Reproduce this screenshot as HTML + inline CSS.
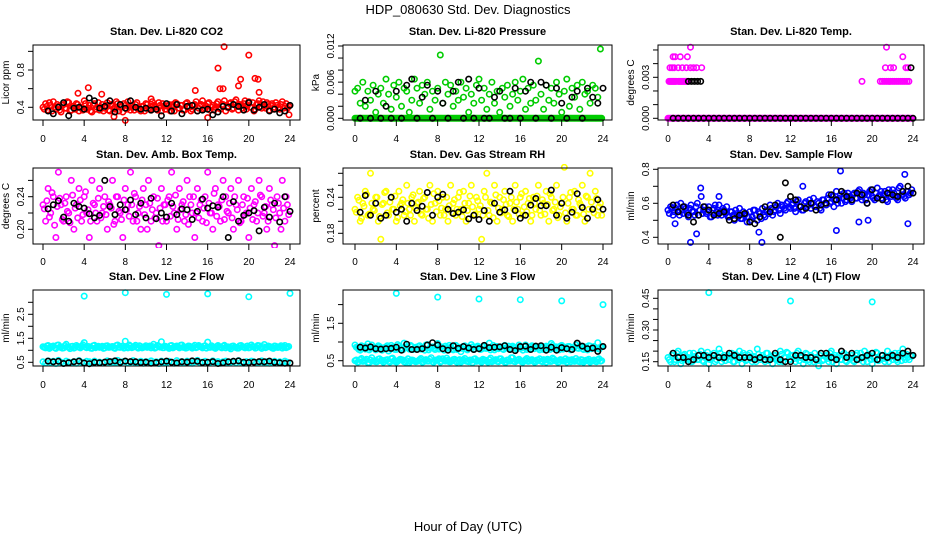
<!DOCTYPE html>
<html><head><meta charset="utf-8"><style>
html,body{margin:0;padding:0;background:#fff;}
svg{display:block;font-family:"Liberation Sans",Arial,sans-serif;}
</style></head><body>
<svg id="chart" width="936" height="540" viewBox="0 0 936 540" xmlns="http://www.w3.org/2000/svg">
<rect width="936" height="540" fill="#fff"/>
<text x="468" y="14" font-size="13" text-anchor="middle">HDP_080630  Std. Dev. Diagnostics</text>
<text x="468" y="531" font-size="13" text-anchor="middle">Hour of Day (UTC)</text>
</svg>
<script>
// ---------- data ----------
const hourTicks=[0,4,8,12,16,20,24];
const co2Main=[0.40,0.44,0.37,0.42,0.46,0.38,0.41,0.35,0.43,0.39,0.45,0.37,0.41,0.44,0.36,0.40,0.47,0.38,0.42,0.35,0.44,0.40,0.37,0.43,
0.39,0.45,0.36,0.41,0.38,0.44,0.40,0.35,0.42,0.46,0.37,0.40,0.43,0.38,0.36,0.41,0.44,0.39,0.37,0.42,0.40,0.45,0.36,0.41,
0.38,0.43,0.40,0.36,0.44,0.39,0.42,0.37,0.45,0.40,0.38,0.43,0.36,0.41,0.47,0.39,0.44,0.37,0.42,0.40,0.46,0.38,0.43,0.36,
0.41,0.45,0.39,0.48,0.37,0.42,0.44,0.38,0.46,0.40,0.36,0.43,0.47,0.39,0.41,0.45,0.37,0.44,0.40,0.42,0.38,0.46,0.41,0.39];
const co2Second=[0.38,0.41,0.45,0.36,0.40,0.43,0.37,0.42,0.39,0.46,0.36,0.41,0.38,0.43,0.40,0.37,0.44,0.39,0.36,0.42,0.38,0.45,0.40,0.36,
0.42,0.37,0.43,0.39,0.46,0.36,0.41,0.44,0.38,0.40,0.42,0.37,0.45,0.39,0.41,0.36,0.43,0.38,0.46,0.40,0.37,0.42,0.44,0.38,
0.41,0.36,0.43,0.45,0.39,0.42,0.37,0.44,0.40,0.36,0.42,0.46,0.39,0.43,0.38,0.41,0.45,0.40,0.37,0.44,0.39,0.42,0.47,0.40,
0.44,0.38,0.46,0.41,0.43,0.39,0.47,0.42,0.40,0.45,0.38,0.44,0.41,0.46,0.39,0.43,0.42,0.38,0.45,0.40,0.43,0.39,0.44,0.41];
const co2OutX=[3.4,4.4,5.7,8.0,10.5,14.8,17.0,17.2,17.6,17.5,19.0,19.2,20.0,20.6,20.9,21.0,6.9,16.0,23.9];
const co2OutY=[0.55,0.61,0.54,0.26,0.49,0.58,0.82,0.60,1.05,0.60,0.63,0.70,0.96,0.71,0.70,0.56,0.30,0.29,0.32];
const co2Black=[.36,.33,.40,.45,.31,.39,.40,.38,.50,.47,.39,.41,.47,.35,.43,.39,.47,.40,.38,.39,.37,.38,.31,.44,.36,.43,.33,.41,.42,.36,.37,.38,.32,.35,.41,.40,.43,.41,.37,.45,.37,.40,.43,.36,.38,.34,.36,.42];

const presMain=[.0045,.005,.0025,.006,.002,.0045,.003,.0055,.001,.004,.005,.0025,.0065,.004,.0015,.0055,.0035,.006,.002,.005,.0045,.001,.003,.0065,
.005,.0025,.0055,.004,.006,.0015,.0045,.003,.005,.0105,.0025,.006,.004,.0055,.002,.0045,.003,.006,.0035,.005,.001,.004,.0025,.0055,
.0065,.003,.005,.0015,.004,.006,.0025,.0045,.001,.005,.0035,.0055,.002,.004,.006,.003,.0045,.0065,.0015,.005,.0025,.0055,.003,.0095,
.004,.0015,.0055,.003,.005,.0025,.006,.004,.001,.0045,.0065,.002,.005,.0035,.0055,.0015,.006,.004,.0045,.0025,.0055,.005,.0035,.0115];
const presBase=[0,0,0,0,0,0,0,0,0,0,0,0,0,0,0,0,0,0,0,0,0,0,0,0,0,0,0,0,0,0,0,0,0,0,0,0,0,0,0,0,0,0,0,0,0,0,0,0,0,0,0,0,0,0,0,0,0,0,0,0,0,0,0,0,0,0,0,0,0,0,0,0,0,0,0,0,0,0,0,0,0,0,0,0,0,0,0,0,0,0,0,0,0,0,0,0];
const presBlack=[0,.003,0,.0045,0,.002,0,.0045,0,.0055,.0065,0,.0035,.0055,0,.0045,.0025,0,.0045,.006,0,.0065,0,.005,
0,0,.0035,.0045,0,0,.005,0,.0045,.006,0,.006,.0055,0,.005,.0025,0,.0035,.0045,0,.005,.0035,.0025,.005];

const tempBase=[0,0,0,0,0,0,0,0,0,0,0,0,0,0,0,0,0,0,0,0,0,0,0,0,0,0,0,0,0,0,0,0,0,0,0,0,0,0,0,0,0,0,0,0,0,0,0,0,0,0,0,0,0,0,0,0,0,0,0,0,0,0,0,0,0,0,0,0,0,0,0,0,0,0,0,0,0,0,0,0,0,0,0,0,0,0,0,0,0,0,0,0,0,0,0,0];
const tempHiX=[0.1,0.2,0.3,0.4,0.5,0.6,0.7,0.8,1.0,1.1,1.2,1.3,1.4,1.5,1.6,1.7,1.8,1.9,0.2,0.4,0.6,1.0,1.4,1.8,2.2,2.5,2.8,3.3,0.5,0.7,1.2,1.9,2.2,
19.0,20.8,21.0,21.2,21.4,21.6,21.8,22.0,22.2,22.4,22.6,22.8,23.0,23.2,23.4,23.6,21.3,21.8,22.1,23.3,23.5,23.0,21.4];
const tempHiY=[.0027,.0027,.0027,.0027,.0027,.0027,.0027,.0027,.0027,.0027,.0027,.0027,.0027,.0027,.0027,.0027,.0027,.0027,.0037,.0037,.0037,.0037,.0037,.0037,.0037,.0037,.0037,.0037,.0045,.0045,.0045,.0045,.0052,
.0027,.0027,.0027,.0027,.0027,.0027,.0027,.0027,.0027,.0027,.0027,.0027,.0027,.0027,.0027,.0027,.0037,.0037,.0037,.0037,.0037,.0045,.0052];
const tempBlack=[0,0,0,0,0,0,0,0,0,0,0,0,0,0,0,0,0,0,0,0,0,0,0,0,0,0,0,0,0,0,0,0,0,0,0,0,0,0,0,0,0,0,0,0,0,0,0,0];
const tempBlackX=[2.0,2.3,2.6,2.9,3.2,23.8];
const tempBlackY=[.0027,.0027,.0027,.0027,.0027,.0037];

const boxMain=[.23,.21,.25,.22,.24,.19,.27,.23,.21,.24,.22,.26,.20,.23,.25,.21,.24,.22,.19,.26,.23,.21,.25,.22,
.24,.20,.23,.26,.21,.24,.22,.19,.25,.23,.27,.21,.24,.22,.20,.25,.23,.26,.21,.24,.22,.18,.25,.23,
.21,.24,.27,.22,.20,.25,.23,.21,.26,.24,.22,.19,.25,.23,.21,.24,.27,.22,.20,.25,.23,.21,.26,.24,
.22,.25,.20,.23,.26,.21,.24,.22,.19,.25,.23,.21,.26,.24,.22,.20,.25,.23,.18,.24,.22,.26,.21,.23];
const boxSecond=[.225,.235,.215,.245,.205,.228,.238,.212,.232,.222,.208,.242,.226,.214,.236,.218,.246,.224,.21,.232,.22,.238,.214,.228,
.218,.234,.226,.206,.24,.222,.212,.236,.224,.216,.23,.244,.21,.228,.236,.218,.2,.232,.224,.214,.238,.226,.21,.23,
.236,.216,.228,.242,.212,.224,.234,.218,.206,.23,.24,.22,.214,.236,.226,.208,.232,.22,.244,.216,.228,.236,.212,.222,
.232,.214,.24,.224,.208,.23,.218,.238,.226,.212,.234,.22,.242,.216,.228,.21,.236,.224,.214,.232,.2,.226,.24,.218];
const boxBlack=[.225,.23,.235,.215,.21,.232,.228,.226,.219,.214,.217,.26,.228,.218,.23,.224,.236,.218,.232,.214,.238,.213,.22,.215,.232,.218,.225,.224,.212,.222,.237,.226,.229,.227,.24,.19,.234,.210,.217,.22,.223,.198,.227,.215,.232,.209,.24,.222];

const rhMain=[.22,.24,.20,.23,.25,.21,.28,.22,.24,.20,.17,.23,.25,.21,.24,.22,.20,.25,.23,.21,.26,.22,.24,.20,
.23,.25,.21,.24,.22,.26,.20,.23,.25,.21,.24,.22,.20,.26,.23,.21,.24,.22,.25,.20,.23,.26,.21,.24,
.22,.17,.25,.28,.21,.23,.26,.20,.24,.22,.25,.21,.23,.20,.26,.22,.24,.21,.25,.23,.20,.24,.22,.26,
.21,.23,.25,.20,.24,.22,.26,.21,.23,.29,.20,.24,.22,.25,.21,.23,.26,.20,.24,.28,.22,.25,.21,.23];
const rhSecond=[.215,.235,.205,.225,.245,.212,.23,.218,.24,.208,.228,.248,.214,.232,.22,.242,.206,.226,.236,.216,.23,.21,.244,.222,
.232,.212,.238,.22,.205,.228,.246,.216,.234,.222,.21,.24,.226,.214,.236,.22,.248,.208,.23,.218,.242,.224,.212,.234,
.226,.21,.24,.218,.232,.206,.244,.222,.214,.236,.228,.208,.24,.22,.232,.212,.246,.224,.216,.238,.21,.23,.242,.218,
.236,.212,.228,.246,.218,.232,.206,.224,.24,.214,.23,.248,.22,.21,.236,.226,.212,.242,.22,.232,.214,.238,.224,.21];
const rhBlack=[.215,.243,.21,.23,.205,.21,.24,.215,.22,.20,.23,.218,.225,.248,.21,.24,.245,.22,.213,.215,.219,.204,.21,.203,
.218,.20,.23,.215,.219,.25,.218,.205,.21,.227,.238,.226,.226,.252,.21,.23,.205,.215,.246,.223,.205,.22,.236,.22];

const flowMain=[.56,.58,.53,.57,.55,.60,.54,.57,.52,.59,.55,.58,.53,.64,.56,.54,.58,.52,.57,.55,.59,.53,.56,.58,
.52,.55,.50,.54,.57,.51,.53,.49,.55,.52,.56,.50,.54,.57,.52,.55,.59,.53,.56,.60,.54,.58,.56,.61,
.57,.60,.55,.62,.58,.56,.61,.59,.57,.63,.58,.60,.56,.62,.59,.65,.61,.58,.67,.63,.60,.66,.62,.64,
.61,.66,.63,.68,.62,.65,.60,.67,.64,.62,.69,.65,.63,.67,.61,.66,.68,.64,.62,.70,.65,.63,.67,.66];
const flowSecond=[.54,.57,.55,.59,.53,.56,.58,.54,.57,.55,.53,.60,.56,.54,.58,.55,.52,.56,.59,.53,.55,.57,.54,.52,
.55,.53,.56,.52,.51,.55,.54,.52,.50,.56,.53,.55,.51,.53,.56,.54,.57,.55,.58,.56,.59,.57,.60,.58,
.59,.57,.61,.58,.56,.60,.58,.62,.60,.58,.61,.57,.62,.60,.63,.60,.64,.62,.60,.65,.63,.61,.66,.63,
.65,.63,.67,.64,.66,.62,.65,.68,.63,.66,.64,.67,.65,.62,.68,.64,.66,.63,.69,.65,.64,.67,.65,.68];
const flowOutX=[2.2,2.8,3.2,9.2,8.9,16.5,16.9,19.6,23.5,23.2,18.7,0.7,13.2,5.0];
const flowOutY=[.37,.42,.69,.37,.43,.44,.79,.50,.48,.77,.49,.48,.70,.64];
const flowBlack=[.59,.55,.58,.53,.49,.53,.58,.56,.53,.54,.55,.50,.51,.53,.54,.49,.48,.52,.58,.55,.59,.40,.72,.64,.62,.58,.57,.60,.56,.59,.60,.65,.62,.67,.64,.62,.66,.65,.60,.68,.63,.62,.66,.65,.64,.67,.70,.66];

const l2Upper=[1.15,1.10,1.20,1.12,1.18,1.08,1.22,1.14,1.10,1.25,1.12,1.16,1.09,1.20,1.13,1.18,1.32,1.11,1.15,1.08,1.21,1.14,1.12,1.17,
1.10,1.19,1.13,1.16,1.08,1.22,1.12,1.15,1.38,1.10,1.18,1.13,1.21,1.09,1.16,1.12,1.19,1.14,1.10,1.25,1.12,1.17,1.36,1.11,
1.15,1.08,1.20,1.13,1.18,1.10,1.22,1.14,1.11,1.17,1.09,1.21,1.13,1.16,1.10,1.19,1.34,1.12,1.15,1.08,1.20,1.13,1.17,1.10,
1.14,1.06,1.18,1.12,1.09,1.20,1.13,1.16,1.10,1.22,1.14,1.11,1.19,1.08,1.24,1.13,1.16,1.10,1.18,1.12,1.15,1.09,1.20,1.13];
const l2UpperB=[1.12,1.18,1.08,1.16,1.11,1.21,1.13,1.09,1.19,1.14,1.07,1.17,1.12,1.15,1.10,1.23,1.13,1.16,1.09,1.19,1.11,1.17,1.14,1.08,
1.18,1.12,1.15,1.10,1.20,1.13,1.17,1.09,1.14,1.22,1.11,1.16,1.13,1.19,1.10,1.15,1.12,1.18,1.16,1.09,1.20,1.13,1.11,1.17,
1.12,1.19,1.10,1.16,1.14,1.21,1.12,1.09,1.18,1.13,1.15,1.11,1.20,1.14,1.17,1.09,1.13,1.19,1.11,1.16,1.14,1.10,1.21,1.15,
1.11,1.17,1.13,1.09,1.19,1.14,1.10,1.18,1.12,1.16,1.09,1.20,1.13,1.15,1.11,1.18,1.14,1.08,1.17,1.12,1.19,1.14,1.11,1.16];
const l2Lower=[.52,.47,.56,.49,.54,.45,.58,.50,.47,.55,.51,.48,.53,.46,.57,.50,.48,.54,.52,.46,.55,.49,.51,.47,
.50,.56,.47,.53,.49,.58,.46,.52,.55,.48,.51,.57,.47,.50,.54,.46,.53,.49,.56,.48,.52,.45,.55,.50,
.48,.54,.51,.46,.57,.49,.53,.47,.55,.50,.46,.52,.58,.48,.51,.54,.47,.50,.56,.49,.53,.46,.52,.55,
.47,.51,.54,.48,.57,.50,.46,.53,.49,.55,.52,.47,.50,.56,.48,.53,.46,.51,.54,.49,.52,.47,.55,.50];
const l2OutX=[4,8,12,16,20,24];
const l2OutY=[3.26,3.40,3.33,3.35,3.23,3.37];
const l2Black=[.55,.52,.54,.45,.48,.52,.55,.47,.44,.50,.48,.51,.53,.56,.50,.55,.53,.52,.49,.51,.46,.49,.52,.55,.50,.47,.52,.51,.56,.54,.49,.50,.53,.45,.48,.52,.54,.56,.50,.49,.51,.53,.52,.55,.50,.48,.46,.47];

const l3Upper=[.92,.84,.78,.88,.81,.95,.83,.86,.79,.90,.85,.82,.87,.76,.91,.84,.80,.89,.83,.97,.86,.81,.88,.84,
.82,.90,.85,.78,.93,.84,.87,.80,.96,.85,.82,.89,.83,.86,.79,.91,.84,.74,.88,.82,.86,.93,.80,.87,
.85,.81,.90,.83,.97,.84,.79,.88,.86,.82,.91,.84,.80,.89,.85,.83,.87,.78,.92,.84,.81,.88,.86,.83,
.85,.80,.89,.84,.96,.82,.87,.79,.91,.85,.83,.88,.80,.86,.84,.90,.82,.87,.79,.89,.85,.83,.98,.86];
const l3UpperB=[.86,.80,.90,.83,.87,.79,.92,.84,.81,.88,.78,.85,.90,.82,.86,.80,.93,.83,.79,.87,.84,.91,.80,.86,
.88,.81,.84,.92,.79,.86,.83,.89,.81,.87,.78,.85,.91,.82,.88,.80,.86,.83,.90,.79,.84,.87,.82,.89,
.80,.88,.83,.86,.79,.91,.84,.82,.87,.80,.85,.89,.83,.86,.81,.92,.84,.88,.80,.85,.90,.82,.87,.79,
.88,.83,.86,.80,.91,.84,.82,.89,.81,.86,.88,.79,.85,.92,.83,.87,.80,.86,.90,.82,.88,.84,.81,.87];
const l3Lower=[.50,.46,.53,.48,.51,.45,.52,.49,.47,.54,.50,.46,.52,.48,.55,.49,.46,.51,.53,.47,.50,.45,.52,.49,
.48,.53,.46,.51,.49,.54,.47,.50,.52,.46,.55,.49,.51,.47,.53,.48,.50,.46,.52,.49,.47,.51,.54,.48,
.50,.46,.52,.49,.53,.47,.51,.48,.55,.50,.46,.52,.49,.58,.47,.51,.50,.46,.53,.48,.52,.49,.47,.51,
.49,.53,.46,.51,.48,.54,.50,.47,.52,.49,.46,.51,.53,.48,.50,.47,.52,.49,.51,.46,.50,.48,.53,.49];
const l3OutX=[4,8,12,16,20,24];
const l3OutY=[2.30,2.20,2.15,2.13,2.10,2.00];
const l3Black=[.86,.84,.87,.82,.81,.82,.83,.86,.78,.94,.80,.80,.82,.92,.98,.92,.82,.78,.90,.83,.88,.84,.80,.82,.91,.85,.86,.87,.90,.80,.77,.88,.89,.80,.89,.90,.78,.86,.78,.85,.82,.80,.97,.89,.82,.84,.75,.88];

const l4Main=[.17,.15,.19,.16,.20,.14,.18,.16,.17,.15,.19,.17,.16,.20,.15,.18,.14,.17,.19,.16,.21,.15,.18,.17,
.16,.19,.15,.17,.20,.14,.18,.16,.19,.15,.17,.21,.16,.18,.15,.19,.17,.14,.18,.16,.20,.15,.17,.19,
.16,.18,.15,.20,.17,.14,.19,.16,.18,.15,.17,.13,.19,.16,.18,.15,.20,.17,.14,.18,.16,.19,.15,.17,
.18,.15,.19,.16,.17,.20,.15,.18,.14,.17,.19,.16,.18,.15,.20,.17,.16,.19,.15,.18,.21,.16,.17,.18];
const l4Second=[.16,.18,.15,.19,.17,.155,.185,.165,.19,.15,.175,.16,.185,.155,.17,.195,.16,.18,.15,.175,.19,.165,.155,.18,
.175,.15,.185,.16,.17,.19,.155,.18,.165,.175,.15,.185,.17,.16,.19,.155,.175,.18,.16,.15,.185,.17,.195,.16,
.18,.165,.19,.155,.175,.16,.185,.15,.17,.19,.16,.18,.155,.175,.165,.19,.15,.18,.17,.16,.185,.155,.18,.165,
.155,.18,.165,.19,.15,.175,.185,.16,.17,.195,.155,.18,.165,.17,.15,.185,.175,.16,.19,.155,.17,.185,.16,.175];
const l4OutX=[4,12,20];
const l4OutY=[.477,.437,.433];
const l4Black=[.19,.17,.17,.15,.16,.18,.18,.17,.18,.17,.17,.19,.18,.17,.17,.17,.16,.17,.16,.16,.19,.16,.15,.15,.18,.18,.17,.17,.16,.19,.19,.17,.16,.20,.17,.19,.16,.17,.18,.19,.16,.18,.17,.18,.17,.19,.20,.18];

const ticksCO2=[0.4,0.6,0.8,1.0], labCO2=["0.4","","0.8",""];
const ticksPres=[0,.002,.004,.006,.008,.010,.012], labPres=["0.000","","","0.006","","","0.012"];
const ticksTemp=[0,.001,.002,.003,.004,.005], labTemp=["0.000","","","0.003","",""];
const ticksBox=[.20,.22,.24,.26], labBox=["0.20","","0.24",""];
const ticksRH=[.18,.20,.22,.24,.26,.28], labRH=["0.18","","","0.24","",""];
const ticksFlow=[.4,.5,.6,.7,.8], labFlow=["0.4","","0.6","","0.8"];
const ticksL2=[.5,1,1.5,2,2.5,3], labL2=["0.5","","1.5","","2.5",""];
const ticksL3=[.5,1,1.5,2], labL3=["0.5","","1.5",""];
const ticksL4=[.15,.2,.25,.3,.35,.4,.45], labL4=["0.15","","","0.30","","","0.45"];

// ---------- rendering ----------
const NS="http://www.w3.org/2000/svg";
const svg=document.getElementById('chart');
function mk(tag,attrs,parent){const e=document.createElementNS(NS,tag);for(const k in attrs)e.setAttribute(k,attrs[k]);(parent||svg).appendChild(e);return e;}
const cols=[{bx0:33,bx1:300,h0:43,h24:290},{bx0:343,bx1:612,h0:355,h24:603},{bx0:658,bx1:924,h0:668,h24:913}];
const rows=[{by0:45,by1:120,ty:35,lab:138},{by0:168,by1:244,ty:158,lab:261},{by0:290,by1:366,ty:280,lab:384}];

function panel(name,title,ylab,col,row,vA,pA,vB,pB,ticks,labs,series){
  const C=cols[col],R=rows[row];
  const g=mk('g',{});
  
  
  const xs=h=>C.h0+h*(C.h24-C.h0)/24;
  const ys=v=>pA+(v-vA)*(pB-pA)/(vB-vA);
  const cx=(C.bx0+C.bx1)/2, cy=(R.by0+R.by1)/2;
  const t=mk('text',{x:cx,y:R.ty,'font-size':11,'font-weight':'bold','text-anchor':'middle'},g);
  
  
  t.textContent=title;
  const yt=mk('text',{x:0,y:0,'font-size':10,'text-anchor':'middle',transform:`translate(${C.bx0-24},${cy}) rotate(-90)`},g);
  
  
  yt.textContent=ylab;
  const clip='clip-'+name;
  const cp=mk('clipPath',{id:clip},g);
  mk('rect',{x:C.bx0-1,y:R.by0-4,width:C.bx1-C.bx0+2,height:R.by1-R.by0+8},cp);
  const pg=mk('g',{'clip-path':`url(#${clip})`},g);
  series.forEach(s=>{
    s.vals.forEach((v,i)=>{
      const h=s.xs?s.xs[i]:(s.step*i+s.start);
      const c=mk('circle',{cx:xs(h).toFixed(1),cy:ys(v).toFixed(1),r:2.7,fill:'none',stroke:s.color,'stroke-width':1.6},pg);
      
      
    });
  });
  const b=mk('rect',{x:C.bx0,y:R.by0,width:C.bx1-C.bx0,height:R.by1-R.by0,fill:'none',stroke:'#000','stroke-width':1},g);
  
  
  ticks.forEach((tv,i)=>{
    const y=ys(tv);
    mk('line',{x1:C.bx0-5,x2:C.bx0,y1:y,y2:y,stroke:'#000'},g);
    if(labs[i]){
      const l=mk('text',{x:0,y:0,'font-size':10,'text-anchor':'middle',transform:`translate(${C.bx0-9},${y}) rotate(-90)`},g);
      
      
      l.textContent=labs[i];
    }
  });
  hourTicks.forEach(h=>{
    const x=xs(h);
    mk('line',{x1:x,x2:x,y1:R.by1,y2:R.by1+6,stroke:'#000'},g);
    const l=mk('text',{x:x,y:R.lab+4,'font-size':10,'text-anchor':'middle'},g);
    
    
    l.textContent=String(h);
  });
}
const Q=(vals,color,key)=>({vals,color,key,step:0.25,start:0});
const Q2=(vals,color,key)=>({vals,color,key,step:0.25,start:0.125});
const B=(vals)=>({vals,color:'#000',key:'black',step:0.5,start:0.5});
const O=(xsArr,vals,color,key)=>({vals,xs:xsArr,color,key});

panel('co2','Stan. Dev. Li-820 CO2','Licor ppm',0,0,0.4,107.3,0.8,70,ticksCO2,labCO2,
  [Q(co2Main,'#ff0000','red'),Q2(co2Second,'#ff0000','red-b'),O(co2OutX,co2OutY,'#ff0000','red-outlier'),B(co2Black)]);
panel('pressure','Stan. Dev. Li-820 Pressure','kPa',1,0,0,118.3,0.012,46,ticksPres,labPres,
  [Q(presBase,'#00cc00','green-zero'),Q2(presBase,'#00cc00','green-zero-b'),Q(presMain,'#00cc00','green'),B(presBlack)]);
panel('temp','Stan. Dev. Li-820 Temp.','degrees C',2,0,0,118.3,0.003,77.3,ticksTemp,labTemp,
  [Q(tempBase,'#ff00ff','magenta-zero'),Q2(tempBase,'#ff00ff','magenta-zero-b'),O(tempHiX,tempHiY,'#ff00ff','magenta'),B(tempBlack),O(tempBlackX,tempBlackY,'#000','black-high')]);
panel('ambbox','Stan. Dev. Amb. Box Temp.','degrees C',0,1,0.20,229.3,0.24,196.7,ticksBox,labBox,
  [Q(boxMain,'#ff00ff','magenta'),Q2(boxSecond,'#ff00ff','magenta-b'),B(boxBlack)]);
panel('rh','Stan. Dev. Gas Stream RH','percent',1,1,0.18,233.3,0.24,197.3,ticksRH,labRH,
  [Q(rhMain,'#ffff00','yellow'),Q2(rhSecond,'#ffff00','yellow-b'),B(rhBlack)]);
panel('sampleflow','Stan. Dev. Sample Flow','ml/min',2,1,0.4,237.3,0.8,169.3,ticksFlow,labFlow,
  [Q(flowMain,'#0000ff','blue'),Q2(flowSecond,'#0000ff','blue-b'),O(flowOutX,flowOutY,'#0000ff','blue-outlier'),B(flowBlack)]);
panel('line2','Stan. Dev. Line 2 Flow','ml/min',0,2,0.5,362.3,1.5,338.3,ticksL2,labL2,
  [Q(l2Upper,'#00ffff','cyan-upper'),Q2(l2UpperB,'#00ffff','cyan-upper-b'),Q(l2Lower,'#00ffff','cyan-lower'),O(l2OutX,l2OutY,'#00ffff','cyan-outlier'),B(l2Black)]);
panel('line3','Stan. Dev. Line 3 Flow','ml/min',1,2,0.5,360.7,1.5,323.3,ticksL3,labL3,
  [Q(l3Upper,'#00ffff','cyan-upper'),Q2(l3UpperB,'#00ffff','cyan-upper-b'),Q(l3Lower,'#00ffff','cyan-lower'),Q2(l2Lower,'#00ffff','cyan-lower-b'),O(l3OutX,l3OutY,'#00ffff','cyan-outlier'),B(l3Black)]);
panel('line4','Stan. Dev. Line 4 (LT) Flow','ml/min',2,2,0.15,361.7,0.45,298.3,ticksL4,labL4,
  [Q(l4Main,'#00ffff','cyan'),Q2(l4Second,'#00ffff','cyan-b'),O(l4OutX,l4OutY,'#00ffff','cyan-outlier'),B(l4Black)]);
</script>
</body></html>
